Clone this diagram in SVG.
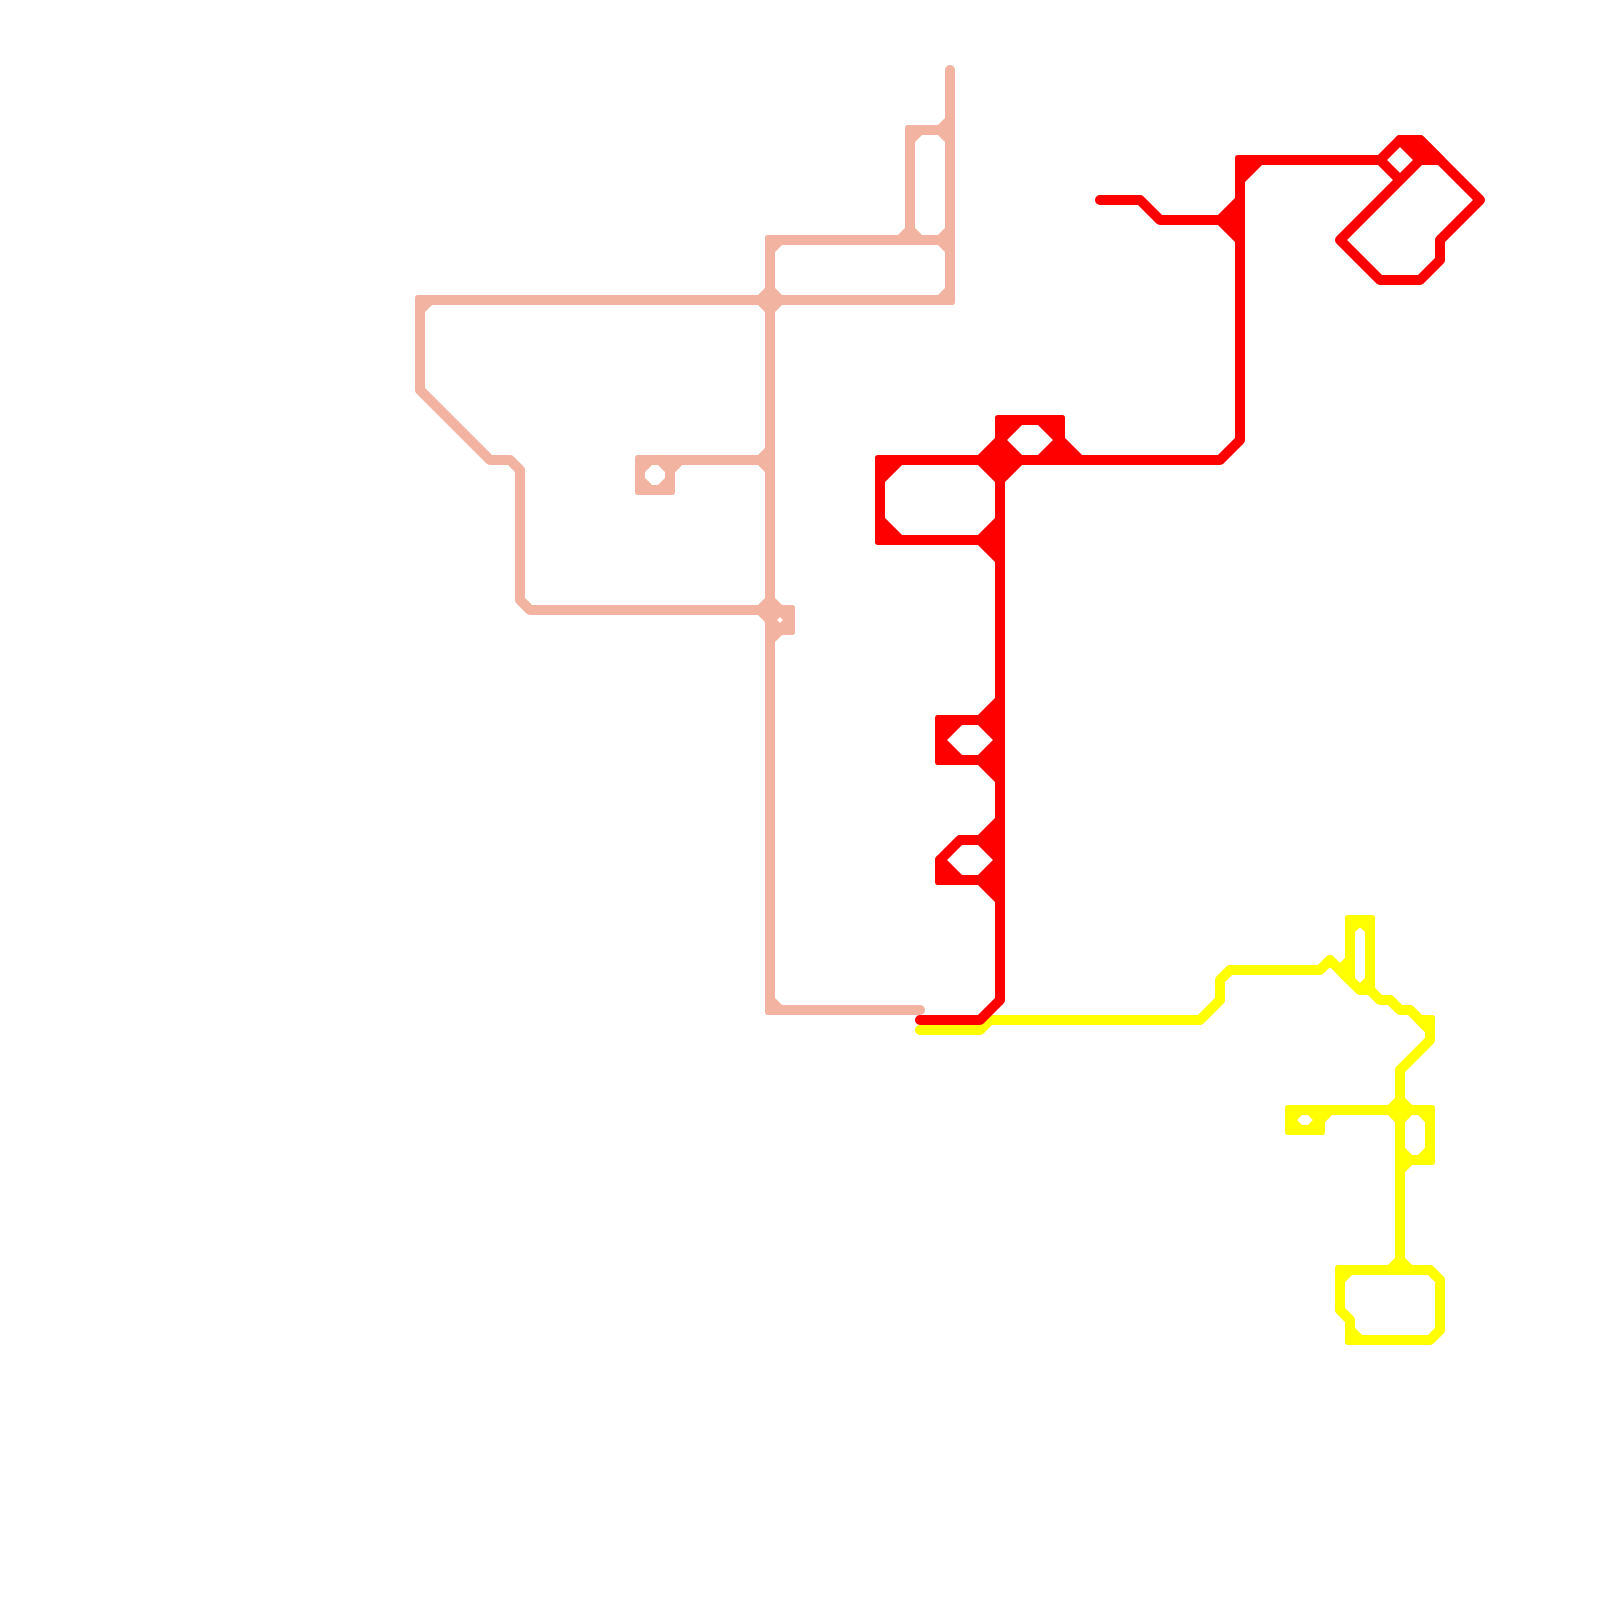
<svg xmlns="http://www.w3.org/2000/svg" width="1600" height="1600" viewBox="0 0 1600 1600">
<style>
.l{fill:none;stroke-width:10;stroke-linecap:round;stroke-linejoin:round}
.f{stroke-width:10;stroke-linejoin:round}
.pink .l,.pink .f{stroke:#f2b3a0}.pink .f,.pink rect{fill:#f2b3a0}
.yel .l,.yel .f{stroke:#ffff00}.yel .f,.yel rect{fill:#ffff00}
.red .l,.red .f{stroke:#ff0000}.red .f,.red rect{fill:#ff0000}
</style>
<rect width="1600" height="1600" fill="#ffffff"/>
<g id="connectors">
<g id="line-pink" class="pink">
<path class="l" d="M950 70V300H420V390L490 460H510L520 470V600L530 610H790V630H770M770 240H950M910 240V130H950M770 240V1010H920M770 460H640V490H670V470L680 460"/>
<path class="f" d="M940 130L950 120V140ZM910 140L920 130H910ZM900 240L910 230L920 240ZM940 240L950 230V250ZM770 250L780 240H770ZM940 300L950 290V300ZM420 310L430 300H420ZM760 300L770 290L780 300L770 310ZM760 460L770 450V470ZM640 470L650 460H640ZM640 480L650 490H640ZM660 490L670 480V490ZM660 460L670 470L680 460ZM760 610L770 600L780 610L770 620ZM780 610L790 620V610ZM770 620L780 630H770ZM780 630L790 620V630ZM770 640L780 630H770ZM770 1000L780 1010H770Z"/>
<rect x="415" y="295" width="10" height="10" rx="3"/><rect x="945" y="295" width="10" height="10" rx="3"/><rect x="765" y="235" width="10" height="10" rx="3"/><rect x="905" y="125" width="10" height="10" rx="3"/><rect x="635" y="455" width="10" height="10" rx="3"/><rect x="635" y="485" width="10" height="10" rx="3"/><rect x="665" y="485" width="10" height="10" rx="3"/><rect x="785" y="605" width="10" height="10" rx="3"/><rect x="785" y="625" width="10" height="10" rx="3"/><rect x="765" y="1005" width="10" height="10" rx="3"/>
</g>
<g id="line-yellow" class="yel">
<path class="l" d="M920 1030H980L990 1020H1200L1220 1000V980L1230 970H1320L1330 960L1360 990H1370L1380 1000H1390L1400 1010H1410L1430 1030V1040L1400 1070V1270M1350 970V920H1370V990M1320 1120V1130H1290V1110H1430V1160H1400M1340 1270H1430L1440 1280V1330L1430 1340H1350V1320L1340 1310Z"/>
<path class="f" d="M1340 970L1350 960V980ZM1350 930L1360 920H1350ZM1360 920L1370 930V920ZM1360 990L1370 980V990ZM1420 1020H1430V1030ZM1290 1120L1300 1110H1290ZM1290 1120L1300 1130H1290ZM1310 1110L1320 1120L1330 1110ZM1310 1130L1320 1120V1130ZM1390 1110L1400 1100L1410 1110L1400 1120ZM1420 1110L1430 1120V1110ZM1420 1160L1430 1150V1160ZM1400 1150L1410 1160L1400 1170ZM1390 1270L1400 1260L1410 1270ZM1340 1280L1350 1270H1340ZM1350 1330L1360 1340H1350Z"/>
<rect x="1345" y="915" width="10" height="10" rx="3"/><rect x="1365" y="915" width="10" height="10" rx="3"/><rect x="1285" y="1105" width="10" height="10" rx="3"/><rect x="1285" y="1125" width="10" height="10" rx="3"/><rect x="1315" y="1125" width="10" height="10" rx="3"/><rect x="1425" y="1105" width="10" height="10" rx="3"/><rect x="1425" y="1155" width="10" height="10" rx="3"/><rect x="1335" y="1265" width="10" height="10" rx="3"/><rect x="1345" y="1335" width="10" height="10" rx="3"/><rect x="1425" y="1015" width="10" height="10" rx="3"/>
</g>
<g id="line-red" class="red">
<path class="l" d="M1100 200H1140L1160 220H1240M920 1020H980L1000 1000V420H1060V440M880 460H1220L1240 440V160H1380L1400 140H1420L1480 200L1440 240V260L1420 280H1380L1340 240L1420 160H1440M1380 160L1400 180M880 460V540H1000M940 760V720H1000M940 760H1000M940 880V860L960 840H1000M940 880H1000"/>
<path class="f" d="M880 480L900 460H880ZM880 520L900 540H880ZM980 540L1000 520V560ZM980 460L1000 440L1020 460L1000 480ZM1000 440L1020 420H1000ZM1040 420L1060 440V420ZM1040 460L1060 440L1080 460ZM1220 220L1240 200V240ZM1240 180L1260 160H1240ZM1400 140H1420L1440 160H1420ZM940 740L960 720H940ZM940 740L960 760H940ZM980 720L1000 700V740ZM980 760L1000 740V780ZM940 860L960 880H940ZM980 840L1000 820V860ZM980 880L1000 860V900Z"/>
<rect x="875" y="455" width="10" height="10" rx="3"/><rect x="875" y="535" width="10" height="10" rx="3"/><rect x="995" y="415" width="10" height="10" rx="3"/><rect x="1055" y="415" width="10" height="10" rx="3"/><rect x="1235" y="155" width="10" height="10" rx="3"/><rect x="935" y="715" width="10" height="10" rx="3"/><rect x="935" y="755" width="10" height="10" rx="3"/><rect x="935" y="875" width="10" height="10" rx="3"/>
</g>
</g>
</svg>
